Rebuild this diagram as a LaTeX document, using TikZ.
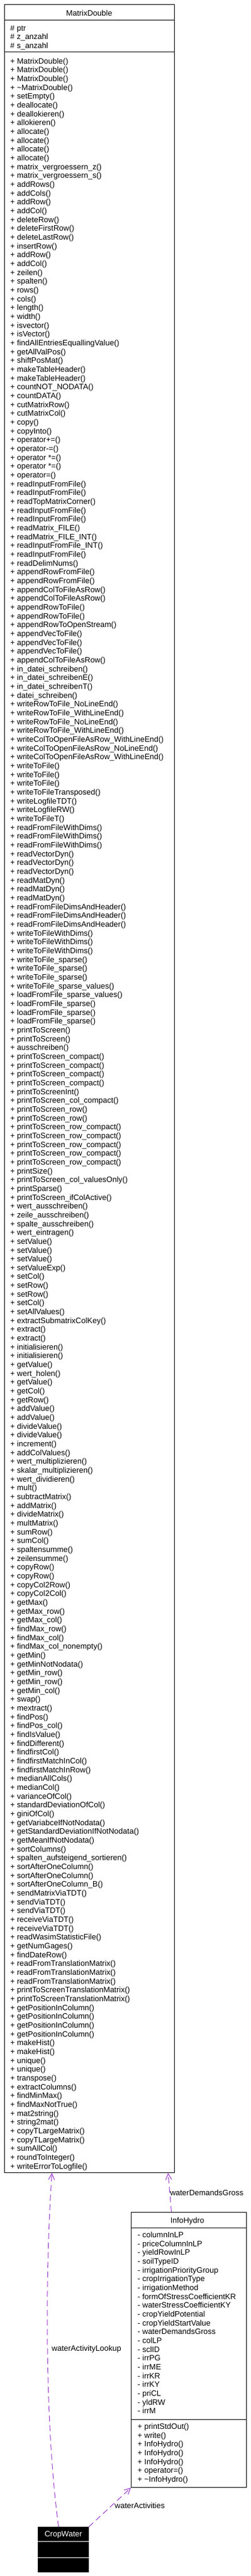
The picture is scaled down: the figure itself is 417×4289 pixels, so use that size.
\documentclass[tikz,border=0pt]{standalone}
\usepackage{fontspec}
\setmainfont{Liberation Sans}
\usetikzlibrary{arrows.meta}
\definecolor{uselink}{HTML}{9A32CD}
\tikzset{
  classbox/.style={draw, line width=1bp, inner sep=0pt, anchor=north west},
  classname/.style={anchor=base, inner sep=0pt, font=\fontsize{13bp}{14.65bp}\selectfont},
  member/.style={anchor=base west, inner sep=0pt, font=\fontsize{13bp}{14.65bp}\selectfont},
  uses/.style={draw=uselink, line width=1bp, dash pattern=on 10bp off 6bp,
    -{Straight Barb[length=10bp,width=10bp]}},
  uselabel/.style={anchor=west, inner sep=0pt, font=\fontsize{13bp}{14.65bp}\selectfont}
}
\begin{document}
\begin{tikzpicture}[x=1bp, y=-1bp]
    \useasboundingbox (0,0) rectangle (417,4289);
    %MatrixDouble
    \node[classbox, minimum width=283bp, minimum height=3610bp] (matrix) at (7,7) {};
    \node[classname] (matrixname) at (148.5,26.6) {MatrixDouble};
    \draw[line width=1bp] (matrix.west |- 0,33) -- (matrix.east |- 0,33);
    \draw[line width=1bp] (matrix.west |- 0,86) -- (matrix.east |- 0,86);
    \foreach \a [count=\i] in {ptr, z\_anzahl, s\_anzahl}
        \node[member] (mda\i) at (17,51.4+14.4*\i-14.4) {\# \a};
    \foreach \m [count=\i] in {MatrixDouble(), MatrixDouble(), MatrixDouble(), \textasciitilde MatrixDouble(),
        setEmpty(), deallocate(), deallokieren(), allokieren(), allocate(), allocate(), allocate(), allocate(),
        matrix\_vergroessern\_z(), matrix\_vergroessern\_s(), addRows(), addCols(), addRow(), addCol(), deleteRow(),
        deleteFirstRow(), deleteLastRow(), insertRow(), addRow(), addCol(), zeilen(), spalten(), rows(), cols(),
        length(), width(), isvector(), isVector(), findAllEntriesEquallingValue(), getAllValPos(), shiftPosMat(),
        makeTableHeader(), makeTableHeader(), countNOT\_NODATA(), countDATA(), cutMatrixRow(), cutMatrixCol(),
        copy(), copyInto(), operator+=(), operator-=(), operator *=(), operator *=(), operator=(),
        readInputFromFile(), readInputFromFile(), readTopMatrixCorner(), readInputFromFile(), readInputFromFile(),
        readMatrix\_FILE(), readMatrix\_FILE\_INT(), readInputFromFile\_INT(), readInputFromFile(), readDelimNums(),
        appendRowFromFile(), appendRowFromFile(), appendColToFileAsRow(), appendColToFileAsRow(),
        appendRowToFile(), appendRowToFile(), appendRowToOpenStream(), appendVecToFile(), appendVecToFile(),
        appendVecToFile(), appendColToFileAsRow(), in\_datei\_schreiben(), in\_datei\_schreibenE(),
        in\_datei\_schreibenT(), datei\_schreiben(), writeRowToFile\_NoLineEnd(), writeRowToFile\_WithLineEnd(),
        writeRowToFile\_NoLineEnd(), writeRowToFile\_WithLineEnd(), writeColToOpenFileAsRow\_WithLineEnd(),
        writeColToOpenFileAsRow\_NoLineEnd(), writeColToOpenFileAsRow\_WithLineEnd(), writeToFile(),
        writeToFile(), writeToFile(), writeToFileTransposed(), writeLogfileTDT(), writeLogfileRW(), writeToFileT(),
        readFromFileWithDims(), readFromFileWithDims(), readFromFileWithDims(), readVectorDyn(), readVectorDyn(),
        readVectorDyn(), readMatDyn(), readMatDyn(), readMatDyn(), readFromFileDimsAndHeader(),
        readFromFileDimsAndHeader(), readFromFileDimsAndHeader(), writeToFileWithDims(), writeToFileWithDims(),
        writeToFileWithDims(), writeToFile\_sparse(), writeToFile\_sparse(), writeToFile\_sparse(),
        writeToFile\_sparse\_values(), loadFromFile\_sparse\_values(), loadFromFile\_sparse(),
        loadFromFile\_sparse(), loadFromFile\_sparse(), printToScreen(), printToScreen(), ausschreiben(),
        printToScreen\_compact(), printToScreen\_compact(), printToScreen\_compact(), printToScreen\_compact(),
        printToScreenInt(), printToScreen\_col\_compact(), printToScreen\_row(), printToScreen\_row(),
        printToScreen\_row\_compact(), printToScreen\_row\_compact(), printToScreen\_row\_compact(),
        printToScreen\_row\_compact(), printToScreen\_row\_compact(), printSize(), printToScreen\_col\_valuesOnly(),
        printSparse(), printToScreen\_ifColActive(), wert\_ausschreiben(), zeile\_ausschreiben(),
        spalte\_ausschreiben(), wert\_eintragen(), setValue(), setValue(), setValue(), setValueExp(), setCol(),
        setRow(), setRow(), setCol(), setAllValues(), extractSubmatrixColKey(), extract(), extract(),
        initialisieren(), initialisieren(), getValue(), wert\_holen(), getValue(), getCol(), getRow(), addValue(),
        addValue(), divideValue(), divideValue(), increment(), addColValues(), wert\_multiplizieren(),
        skalar\_multiplizieren(), wert\_dividieren(), mult(), subtractMatrix(), addMatrix(), divideMatrix(),
        multMatrix(), sumRow(), sumCol(), spaltensumme(), zeilensumme(), copyRow(), copyRow(), copyCol2Row(),
        copyCol2Col(), getMax(), getMax\_row(), getMax\_col(), findMax\_row(), findMax\_col(),
        findMax\_col\_nonempty(), getMin(), getMinNotNodata(), getMin\_row(), getMin\_row(), getMin\_col(), swap(),
        mextract(), findPos(), findPos\_col(), findIsValue(), findDifferent(), findfirstCol(),
        findfirstMatchInCol(), findfirstMatchInRow(), medianAllCols(), medianCol(), varianceOfCol(),
        standardDeviationOfCol(), giniOfCol(), getVariabceIfNotNodata(), getStandardDeviationIfNotNodata(),
        getMeanIfNotNodata(), sortColumns(), spalten\_aufsteigend\_sortieren(), sortAfterOneColumn(),
        sortAfterOneColumn(), sortAfterOneColumn\_B(), sendMatrixViaTDT(), sendViaTDT(), sendViaTDT(),
        receiveViaTDT(), receiveViaTDT(), readWasimStatisticFile(), getNumGages(), findDateRow(),
        readFromTranslationMatrix(), readFromTranslationMatrix(), readFromTranslationMatrix(),
        printToScreenTranslationMatrix(), printToScreenTranslationMatrix(), getPositionInColumn(),
        getPositionInColumn(), getPositionInColumn(), getPositionInColumn(), makeHist(), makeHist(), unique(),
        unique(), transpose(), extractColumns(), findMinMax(), findMaxNotTrue(), mat2string(), string2mat(),
        copyTLargeMatrix(), copyTLargeMatrix(), sumAllCol(), roundToInteger(), writeErrorToLogfile()}
        \node[member] (md\i) at (17,106.2+14.665*\i-14.665) {+ \m};
    %InfoHydro
    \node[classbox, minimum width=192bp, minimum height=458bp] (info) at (218,3683) {};
    \node[classname] (infoname) at (312,3701.6) {InfoHydro};
    \draw[line width=1bp] (info.west |- 0,3709) -- (info.east |- 0,3709);
    \draw[line width=1bp] (info.west |- 0,4028) -- (info.east |- 0,4028);
    \foreach \a [count=\i] in {columnInLP, priceColumnInLP, yieldRowInLP, soilTypeID, irrigationPriorityGroup,
        cropIrrigationType, irrigationMethod, formOfStressCoefficientKR, waterStressCoefficientKY,
        cropYieldPotential, cropYieldStartValue, waterDemandsGross, colLP, sclID, irrPG, irrME, irrKR, irrKY,
        priCL, yldRW, irrM}
        \node[member] (iha\i) at (229,3725.6+14.65*\i-14.65) {- \a};
    \foreach \m [count=\i] in {printStdOut(), write(), InfoHydro(), InfoHydro(), InfoHydro(), operator=(),
        \textasciitilde InfoHydro()}
        \node[member] (ihm\i) at (229,4044.6+14.65*\i-14.65) {+ \m};
    %CropWater
    \node[classbox, fill=black, minimum width=84bp, minimum height=75bp] (crop) at (63,4207) {};
    \node[classname, text=white] (cropname) at (crop.north |- 0,4223.6) {CropWater};
    \draw[white, line width=1bp] (crop.west |- 0,4231) -- (crop.east |- 0,4231);
    \draw[white, line width=1bp] (crop.west |- 0,4258) -- (crop.east |- 0,4258);
    %usage links
    \draw[uses] ([xshift=-29bp]info.north) -- node[uselabel, pos=0.5] (gross) {waterDemandsGross}
        ([xshift=-11bp]matrix.south east);
    \draw[uses] ([xshift=-8bp]crop.north) .. controls (76,4050) and (74,3800) .. ([xshift=-62.5bp]matrix.south);
    \node[uselabel] (lookup) at (86,3911) {waterActivityLookup};
    \draw[uses] (crop.north east) -- (info.south west);
    \node[uselabel] (activities) at (191,4172) {waterActivities};
\end{tikzpicture}
\end{document}
